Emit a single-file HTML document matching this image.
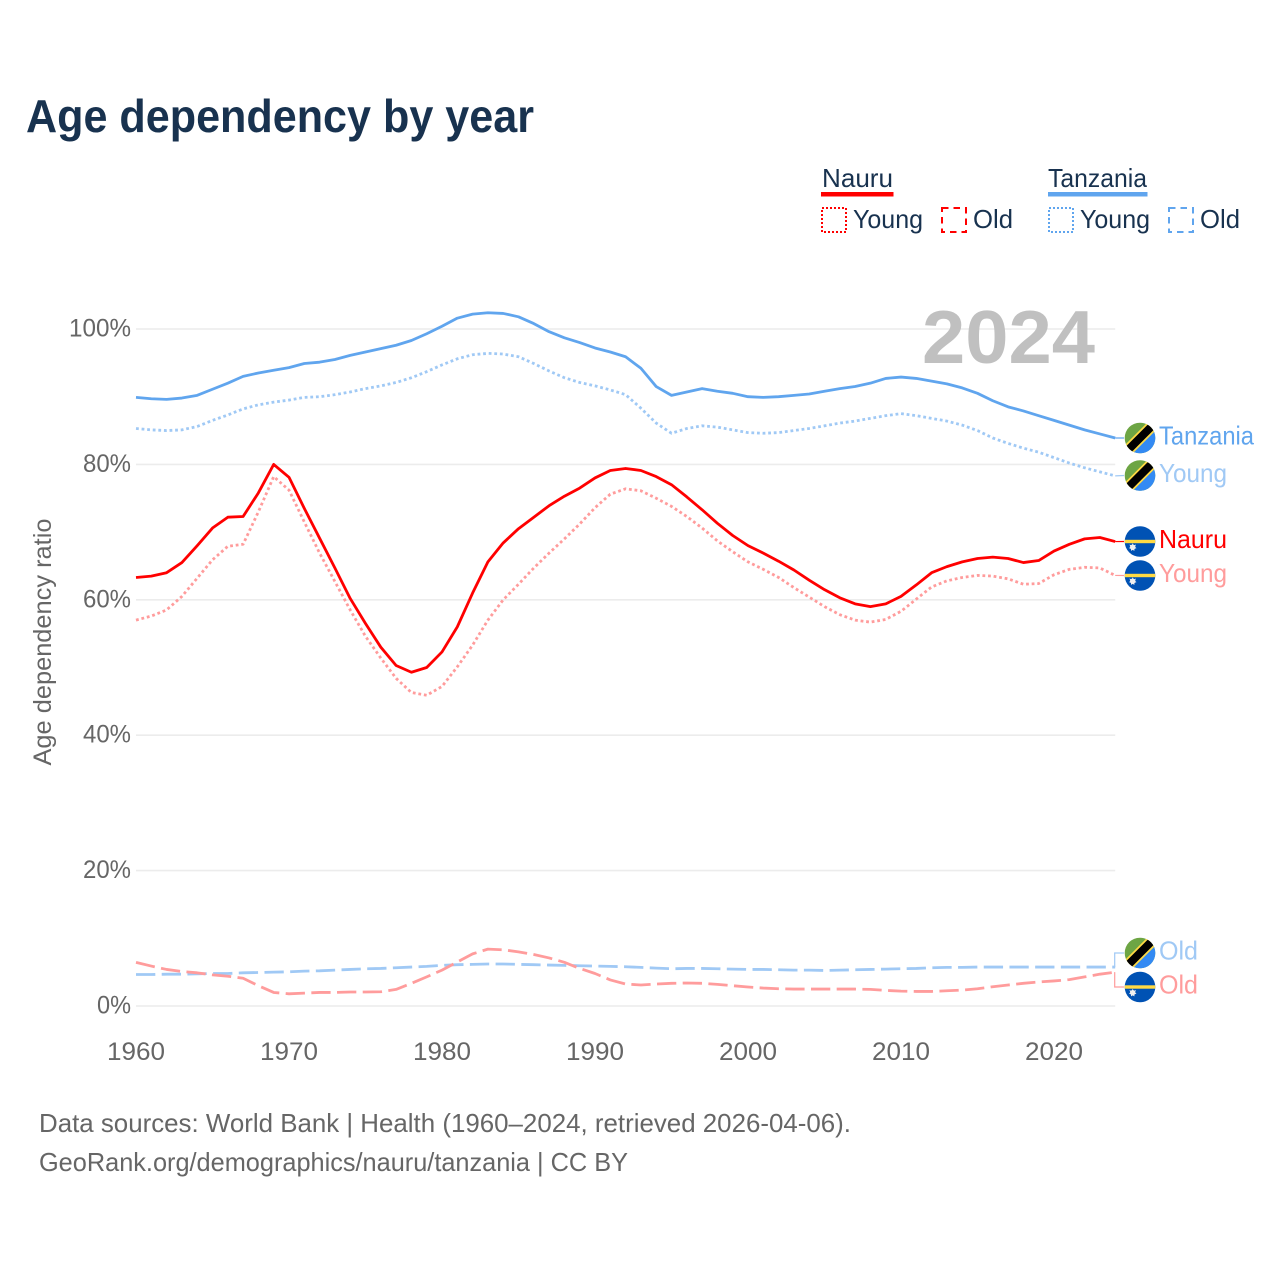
<!DOCTYPE html>
<html lang="en">
<head>
<meta charset="utf-8">
<title>Age dependency by year</title>
<style>
html,body{margin:0;padding:0;background:#fff;}
svg{display:block;}
text{font-family:"Liberation Sans",sans-serif;}
</style>
</head>
<body>
<svg id="chart" xmlns="http://www.w3.org/2000/svg" width="1280" height="1280" viewBox="0 0 1280 1280">
  <defs>
    <clipPath id="flag-clip"><circle cx="0" cy="0" r="15.3"/></clipPath>
    <g id="flag-tanzania" clip-path="url(#flag-clip)">
      <rect x="-16" y="-16" width="32" height="32" fill="#6da544"/>
      <polygon points="16,-16 16,16 -16,16" fill="#338af3"/>
      <line x1="-16" y1="16" x2="16" y2="-16" stroke="#ffda44" stroke-width="11.5"/>
      <line x1="-16" y1="16" x2="16" y2="-16" stroke="#000" stroke-width="8"/>
    </g>
    <g id="flag-nauru" clip-path="url(#flag-clip)">
      <rect x="-16" y="-16" width="32" height="32" fill="#0052b4"/>
      <rect x="-16" y="-1.7" width="32" height="3.4" fill="#ffda44"/>
      <circle cx="-7.3" cy="5.6" r="2.6" fill="#f0f0f0"/>
      <polygon points="-7.3,1.8 -6.3,4 -4,3 -5,5.4 -3.5,6.6 -5.6,7.4 -5.6,9.4 -7.3,8.4 -9,9.4 -9,7.4 -11,6.6 -9.6,5.4 -10.6,3 -8.3,4" fill="#f0f0f0"/>
    </g>
  </defs>

  <rect width="1280" height="1280" fill="#fff"/>

  <text x="26" y="132" font-size="46" font-weight="700" fill="#18324f" textLength="508" lengthAdjust="spacingAndGlyphs">Age dependency by year</text>

  <g>
    <g>
      <text x="822" y="187" font-size="26" fill="#18324f" textLength="71" lengthAdjust="spacingAndGlyphs">Nauru</text>
      <rect x="821" y="192" width="72.5" height="4.5" fill="#ff0000"/>
      <rect x="822" y="208" width="24" height="24" fill="none" stroke="#ff0000" stroke-width="2" stroke-dasharray="2 2"/>
      <text x="853" y="228" font-size="26" fill="#18324f" textLength="70" lengthAdjust="spacingAndGlyphs">Young</text>
      <rect x="942" y="208" width="24" height="24" fill="none" stroke="#ff0000" stroke-width="2" stroke-dasharray="6.5 5"/>
      <text x="973" y="228" font-size="26" fill="#18324f" textLength="40" lengthAdjust="spacingAndGlyphs">Old</text>
    </g>
    <g>
      <text x="1048" y="187" font-size="26" fill="#18324f" textLength="99" lengthAdjust="spacingAndGlyphs">Tanzania</text>
      <rect x="1048" y="192" width="99.5" height="4.5" fill="#60a5ee"/>
      <rect x="1049" y="208" width="24" height="24" fill="none" stroke="#60a5ee" stroke-width="2" stroke-dasharray="2 2"/>
      <text x="1080" y="228" font-size="26" fill="#18324f" textLength="70" lengthAdjust="spacingAndGlyphs">Young</text>
      <rect x="1169" y="208" width="24" height="24" fill="none" stroke="#60a5ee" stroke-width="2" stroke-dasharray="6.5 5"/>
      <text x="1200" y="228" font-size="26" fill="#18324f" textLength="40" lengthAdjust="spacingAndGlyphs">Old</text>
    </g>
  </g>

  <g id="grid"></g>
  <g id="y-ticks"></g>
  <g id="x-ticks"></g>

  <text transform="translate(51,642) rotate(-90)" text-anchor="middle" font-size="25" fill="#666" textLength="247" lengthAdjust="spacingAndGlyphs">Age dependency ratio</text>

  <text x="922" y="363" font-size="75" font-weight="700" fill="#c0c0c0" textLength="173" lengthAdjust="spacingAndGlyphs">2024</text>

  <g id="series"></g>
  <g id="end-labels"></g>

  <text x="39" y="1132" font-size="26" fill="#666" textLength="812" lengthAdjust="spacingAndGlyphs">Data sources: World Bank | Health (1960–2024, retrieved 2026-04-06).</text>
  <text x="39" y="1171" font-size="26" fill="#666" textLength="589" lengthAdjust="spacingAndGlyphs">GeoRank.org/demographics/nauru/tanzania | CC BY</text>
</svg>

<script>
const years = [1960,1961,1962,1963,1964,1965,1966,1967,1968,1969,1970,1971,1972,1973,1974,1975,1976,1977,1978,1979,1980,1981,1982,1983,1984,1985,1986,1987,1988,1989,1990,1991,1992,1993,1994,1995,1996,1997,1998,1999,2000,2001,2002,2003,2004,2005,2006,2007,2008,2009,2010,2011,2012,2013,2014,2015,2016,2017,2018,2019,2020,2021,2022,2023,2024];

const tanzaniaTotal = [89.9,89.7,89.6,89.8,90.2,91.1,92.0,93.0,93.5,93.9,94.3,94.9,95.1,95.5,96.1,96.6,97.1,97.6,98.3,99.3,100.4,101.6,102.2,102.4,102.3,101.8,100.8,99.6,98.7,98.0,97.2,96.6,95.9,94.2,91.5,90.2,90.7,91.2,90.8,90.5,90.0,89.9,90.0,90.2,90.4,90.8,91.2,91.5,92.0,92.7,92.9,92.7,92.3,91.9,91.3,90.5,89.4,88.5,87.9,87.2,86.5,85.8,85.1,84.5,83.9];

const tanzaniaYoung = [85.3,85.1,85.0,85.1,85.6,86.5,87.3,88.2,88.8,89.2,89.5,89.9,90.0,90.3,90.7,91.2,91.6,92.1,92.8,93.7,94.7,95.6,96.2,96.4,96.3,95.9,94.9,93.8,92.8,92.1,91.6,91.0,90.3,88.3,86.1,84.6,85.3,85.7,85.5,85.1,84.7,84.6,84.7,85.0,85.3,85.7,86.1,86.4,86.8,87.2,87.5,87.2,86.8,86.4,85.8,85.0,83.9,83.1,82.4,81.8,81.0,80.2,79.5,78.9,78.3];

const tanzaniaOld = [4.65,4.65,4.7,4.7,4.75,4.8,4.8,4.9,4.95,5.0,5.05,5.15,5.2,5.3,5.4,5.5,5.55,5.65,5.75,5.85,6.0,6.1,6.15,6.2,6.2,6.15,6.1,6.05,6.0,5.95,5.9,5.85,5.8,5.7,5.6,5.5,5.55,5.55,5.5,5.45,5.4,5.4,5.35,5.3,5.3,5.25,5.3,5.35,5.4,5.45,5.5,5.55,5.65,5.7,5.7,5.75,5.75,5.75,5.75,5.75,5.75,5.75,5.75,5.75,5.75];

const nauruTotal = [63.3,63.5,64.0,65.5,68.0,70.6,72.2,72.3,75.8,80.0,78.1,73.5,69.1,64.7,60.2,56.5,53.0,50.3,49.3,50.0,52.3,56.0,61.0,65.6,68.4,70.5,72.2,73.9,75.3,76.5,78.0,79.1,79.4,79.1,78.2,77.0,75.2,73.3,71.3,69.5,68.0,66.9,65.7,64.4,62.9,61.5,60.3,59.4,59.0,59.4,60.5,62.2,64.0,64.9,65.6,66.1,66.3,66.1,65.5,65.8,67.2,68.2,69.0,69.2,68.6];

const nauruYoung = [57.0,57.6,58.5,60.5,63.2,65.9,67.9,68.2,73.0,78.2,76.2,71.5,66.9,62.7,58.5,54.6,51.4,48.4,46.3,45.9,47.2,50.1,53.3,57.0,60.0,62.3,64.7,66.9,69.0,71.2,73.6,75.6,76.4,76.1,75.0,73.8,72.3,70.6,68.7,67.1,65.6,64.5,63.3,61.8,60.4,59.0,57.8,57.0,56.7,57.1,58.3,60.1,61.9,62.8,63.3,63.6,63.5,63.1,62.3,62.4,63.7,64.5,64.8,64.7,63.6];

const nauruOld = [6.45,5.9,5.4,5.1,4.9,4.6,4.4,4.1,3.0,2.0,1.8,1.9,2.0,2.0,2.07,2.07,2.1,2.45,3.35,4.3,5.3,6.5,7.7,8.4,8.3,8.0,7.6,7.1,6.45,5.55,4.8,3.85,3.25,3.1,3.25,3.35,3.4,3.35,3.2,3.0,2.8,2.65,2.55,2.5,2.5,2.5,2.5,2.5,2.45,2.3,2.2,2.15,2.15,2.25,2.35,2.55,2.85,3.1,3.35,3.55,3.7,3.9,4.3,4.7,5.0];

const xTickValues = [1960,1970,1980,1990,2000,2010,2020];
const yTickValues = [0,20,40,60,80,100];

const NS = 'http://www.w3.org/2000/svg';
const PLOT_LEFT = 136, PLOT_RIGHT = 1115.2, PLOT_BOTTOM = 1006, PLOT_TOP = 329;

function xScale(year) {
  return PLOT_LEFT + (year - 1960) * (PLOT_RIGHT - PLOT_LEFT) / (2024 - 1960);
}
function yScale(value) {
  return PLOT_BOTTOM - value * (PLOT_BOTTOM - PLOT_TOP) / 100;
}
function make(tag, attrs, parent) {
  const el = document.createElementNS(NS, tag);
  for (const k in attrs) el.setAttribute(k, attrs[k]);
  parent.appendChild(el);
  return el;
}

const gridGroup = document.getElementById('grid');
const yTickGroup = document.getElementById('y-ticks');
const xTickGroup = document.getElementById('x-ticks');
const seriesGroup = document.getElementById('series');
const labelGroup = document.getElementById('end-labels');

yTickValues.forEach(function (v) {
  const line = make('line', {x1: PLOT_LEFT, x2: PLOT_RIGHT, y1: yScale(v), y2: yScale(v), stroke: '#ececec', 'stroke-width': 1.6}, gridGroup);
  
  
  const label = String(v) + '%';
  const t = make('text', {x: 131, y: yScale(v) + 7.5, 'text-anchor': 'end', 'font-size': 25, fill: '#666', textLength: 20 + 14 * String(v).length, lengthAdjust: 'spacingAndGlyphs'}, yTickGroup);
  t.textContent = label;
  
  
});

xTickValues.forEach(function (yr) {
  const t = make('text', {x: xScale(yr), y: 1060, 'text-anchor': 'middle', 'font-size': 25, fill: '#666', textLength: 58, lengthAdjust: 'spacingAndGlyphs'}, xTickGroup);
  t.textContent = String(yr);
  
  
});

const LIGHT_BLUE = '#a0c9f5', BLUE = '#60a5ee', RED = '#ff0000', PINK = '#ff9c9c';
const DOT = '2.8 2.8', DASH = '19.3 6.4';

function drawSeries(values, color, dash, width, name) {
  const pts = values.map(function (v, i) { return xScale(years[i]).toFixed(2) + ',' + yScale(v).toFixed(2); }).join(' ');
  const attrs = {points: pts, fill: 'none', stroke: color, 'stroke-width': width, 'stroke-linejoin': 'round'};
  if (dash) attrs['stroke-dasharray'] = dash;
  const el = make('polyline', attrs, seriesGroup);
  
  
}

drawSeries(tanzaniaOld, LIGHT_BLUE, DASH, 2.8, 'series-tanzania-old');
drawSeries(nauruOld, PINK, DASH, 2.8, 'series-nauru-old');
drawSeries(tanzaniaYoung, LIGHT_BLUE, DOT, 2.8, 'series-tanzania-young');
drawSeries(nauruYoung, PINK, DOT, 2.8, 'series-nauru-young');
drawSeries(tanzaniaTotal, BLUE, null, 2.8, 'series-tanzania-total');
drawSeries(nauruTotal, RED, null, 2.8, 'series-nauru-total');

function drawEndLabel(values, flagId, flagY, text, textWidth, color, name) {
  const last = values[values.length - 1];
  const startY = yScale(last);
  const startX = xScale(years[years.length - 1]);
  const pts = Math.abs(startY - flagY) > 3
    ? [[startX - 0.5, startY], [startX - 0.5, flagY], [1124, flagY]]
    : [[startX, startY], [1124, flagY]];
  const leader = make('polyline', {points: pts.map(function (p) { return p.join(','); }).join(' '), fill: 'none', stroke: color, 'stroke-width': 1.2}, labelGroup);
  
  
  const flag = make('use', {href: '#' + flagId, transform: 'translate(1140,' + flagY + ')'}, labelGroup);
  
  
  const t = make('text', {x: 1159, y: flagY + 6.5, 'font-size': 26, fill: color, textLength: textWidth, lengthAdjust: 'spacingAndGlyphs'}, labelGroup);
  t.textContent = text;
  
  
}

drawEndLabel(tanzaniaTotal, 'flag-tanzania', 438, 'Tanzania', 95, BLUE, 'end-tanzania-total');
drawEndLabel(tanzaniaYoung, 'flag-tanzania', 475.5, 'Young', 68, LIGHT_BLUE, 'end-tanzania-young');
drawEndLabel(nauruTotal, 'flag-nauru', 541.5, 'Nauru', 68, RED, 'end-nauru-total');
drawEndLabel(nauruYoung, 'flag-nauru', 575.5, 'Young', 68, PINK, 'end-nauru-young');
drawEndLabel(tanzaniaOld, 'flag-tanzania', 953, 'Old', 39, LIGHT_BLUE, 'end-tanzania-old');
drawEndLabel(nauruOld, 'flag-nauru', 987, 'Old', 39, PINK, 'end-nauru-old');
</script>
</body>
</html>
